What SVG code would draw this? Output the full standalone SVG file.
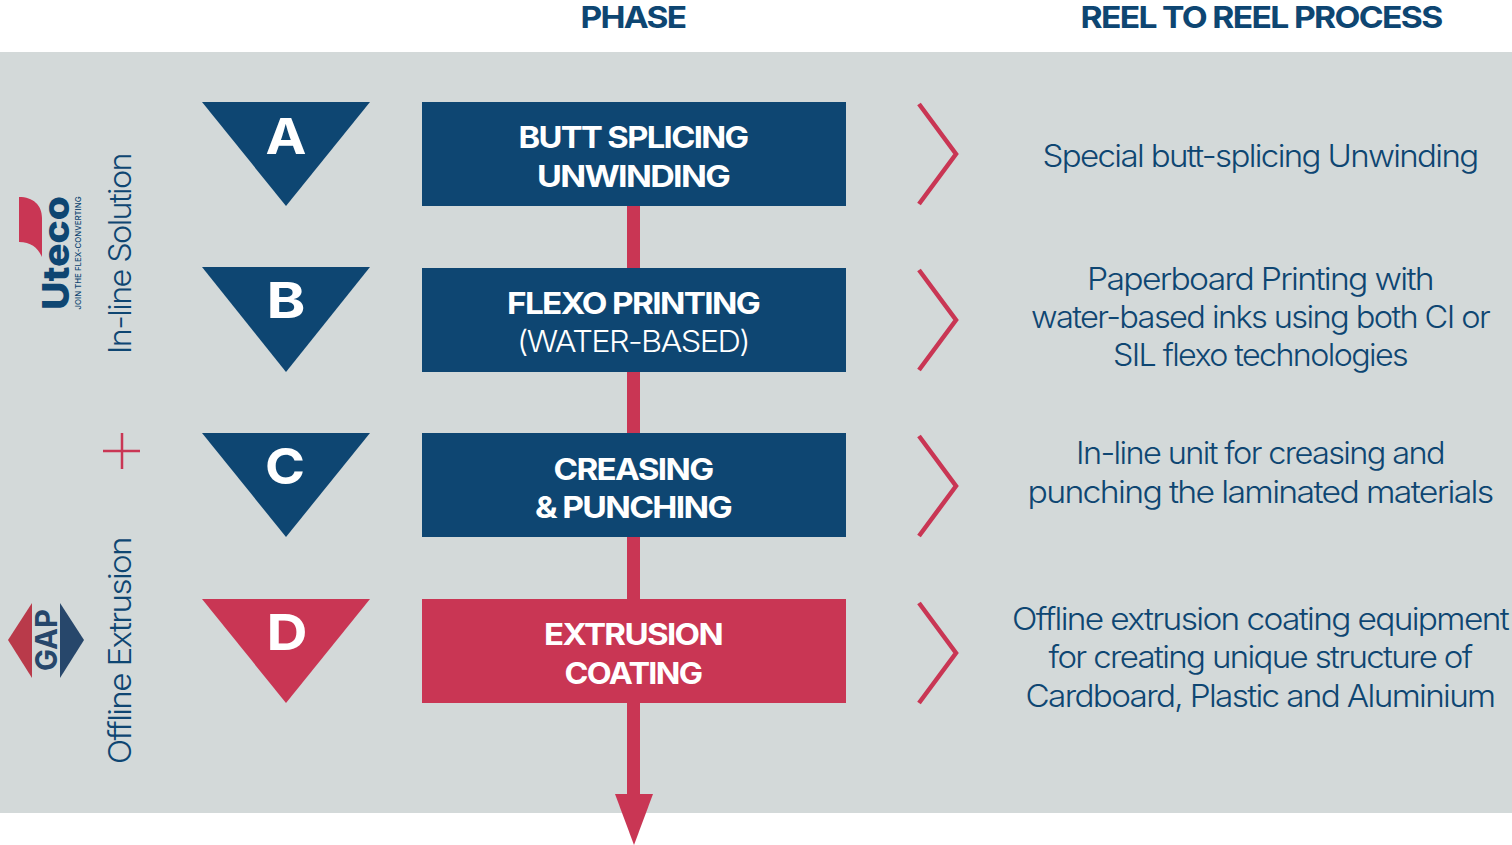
<svg xmlns="http://www.w3.org/2000/svg" width="1512" height="845" viewBox="0 0 1512 845">
<style>
text{font-family:"Inter","Liberation Sans",sans-serif;fill:#0e4672;text-anchor:middle;letter-spacing:-0.05em}
.hd{font-size:30px;font-weight:700}
.bx{font-size:30px;font-weight:700;fill:#fff}
.bl{font-size:30px;font-weight:300;fill:#fff}
.lt{font-size:50px;font-weight:700;fill:#fff;letter-spacing:0}
.ds{font-size:31px;font-weight:300}
.sd{font-size:31px;font-weight:300}
.logo{letter-spacing:0}
.navy{fill:#0e4672}.red{fill:#c93654}
.chev{fill:none;stroke:#c93654;stroke-width:4.5}
</style>
<rect width="1512" height="845" fill="#fff"/>
<rect x="0" y="52" width="1512" height="761" fill="#d3d9d9"/>
<g id="headers">
<text class="hd" x="633" y="28" textLength="105" lengthAdjust="spacingAndGlyphs">PHASE</text>
<text class="hd" x="1261" y="28" textLength="361" lengthAdjust="spacingAndGlyphs">REEL TO REEL PROCESS</text>
</g>
<g id="connectors">
<rect class="red" x="627" y="206" width="13" height="62"/>
<rect class="red" x="627" y="372" width="13" height="61"/>
<rect class="red" x="627" y="537" width="13" height="62"/>
<rect class="red" x="627" y="703" width="13" height="92"/>
<polygon class="red" points="615,794 653,794 634,845"/>
</g>
<g id="uteco-logo">
<path class="red" d="M19 197C33 197 42 205 42 218V257C38 248 31 242 19 242Z"/>
<text class="logo" transform="translate(69 253) rotate(-90)" font-size="37" font-weight="800" textLength="114" lengthAdjust="spacingAndGlyphs">Uteco</text>
<text class="logo" transform="translate(81 253) rotate(-90)" font-size="8" font-weight="500" textLength="113" lengthAdjust="spacingAndGlyphs">JOIN THE FLEX-CONVERTING</text>
</g>
<g id="label-inline"><text class="sd" transform="translate(131 254) rotate(-90)" textLength="200" lengthAdjust="spacingAndGlyphs">In-line Solution</text></g>
<g id="plus"><path d="M103 451H140M122 433V469" fill="none" stroke="#c93654" stroke-width="2.5"/></g>
<g id="gap-logo">
<polygon points="8,640 32,603 32,678" fill="#b93a4a"/>
<polygon points="60,603 84,640 60,678" fill="#27476b"/>
<text class="logo" transform="translate(57 640) rotate(-90)" font-size="30" font-weight="700" style="fill:#27476b" textLength="62" lengthAdjust="spacingAndGlyphs">GAP</text>
</g>
<g id="label-offline"><text class="sd" transform="translate(131 651) rotate(-90)" textLength="226" lengthAdjust="spacingAndGlyphs">Offline Extrusion</text></g>

<g id="phase-a">
<polygon class="navy" points="202,102 370,102 286,206"/>
<text class="lt" x="286" y="154" textLength="41" lengthAdjust="spacingAndGlyphs">A</text>
<rect class="navy" x="422" y="102" width="424" height="104"/>
<text class="bx" x="633" y="148" textLength="229" lengthAdjust="spacingAndGlyphs">BUTT SPLICING</text>
<text class="bx" x="633" y="187" textLength="192" lengthAdjust="spacingAndGlyphs">UNWINDING</text>
<path class="chev" d="M919 104L956 154L919 204"/>
<text class="ds" x="1260" y="167" textLength="435" lengthAdjust="spacingAndGlyphs">Special butt-splicing Unwinding</text>
</g>
<g id="phase-b">
<polygon class="navy" points="202,267 370,267 286,372"/>
<text class="lt" x="286" y="318" textLength="39" lengthAdjust="spacingAndGlyphs">B</text>
<rect class="navy" x="422" y="268" width="424" height="104"/>
<text class="bx" x="633" y="314" textLength="252" lengthAdjust="spacingAndGlyphs">FLEXO PRINTING</text>
<text class="bl" x="633" y="352" textLength="232" lengthAdjust="spacingAndGlyphs">(WATER-BASED)</text>
<path class="chev" d="M919 270L956 320L919 370"/>
<text class="ds" x="1260" y="290" textLength="346" lengthAdjust="spacingAndGlyphs">Paperboard Printing with</text>
<text class="ds" x="1260" y="328" textLength="458" lengthAdjust="spacingAndGlyphs">water-based inks using both CI or</text>
<text class="ds" x="1260" y="366" textLength="294" lengthAdjust="spacingAndGlyphs">SIL flexo technologies</text>
</g>
<g id="phase-c">
<polygon class="navy" points="202,433 370,433 286,537"/>
<text class="lt" x="285" y="484" textLength="40" lengthAdjust="spacingAndGlyphs">C</text>
<rect class="navy" x="422" y="433" width="424" height="104"/>
<text class="bx" x="633" y="480" textLength="159" lengthAdjust="spacingAndGlyphs">CREASING</text>
<text class="bx" x="633" y="518" textLength="196" lengthAdjust="spacingAndGlyphs">&amp; PUNCHING</text>
<path class="chev" d="M919 436L956 486L919 536"/>
<text class="ds" x="1260" y="464" textLength="368" lengthAdjust="spacingAndGlyphs">In-line unit for creasing and</text>
<text class="ds" x="1260" y="503" textLength="465" lengthAdjust="spacingAndGlyphs">punching the laminated materials</text>
</g>
<g id="phase-d">
<polygon class="red" points="202,599 370,599 286,703"/>
<text class="lt" x="287" y="650" textLength="41" lengthAdjust="spacingAndGlyphs">D</text>
<rect class="red" x="422" y="599" width="424" height="104"/>
<text class="bx" x="633" y="645" textLength="178" lengthAdjust="spacingAndGlyphs">EXTRUSION</text>
<text class="bx" x="633" y="684" textLength="137" lengthAdjust="spacingAndGlyphs">COATING</text>
<path class="chev" d="M919 603L956 653L919 703"/>
<text class="ds" x="1260" y="630" textLength="496" lengthAdjust="spacingAndGlyphs">Offline extrusion coating equipment</text>
<text class="ds" x="1260" y="668" textLength="423" lengthAdjust="spacingAndGlyphs">for creating unique structure of</text>
<text class="ds" x="1260" y="707" textLength="469" lengthAdjust="spacingAndGlyphs">Cardboard, Plastic and Aluminium</text>
</g>
</svg>
